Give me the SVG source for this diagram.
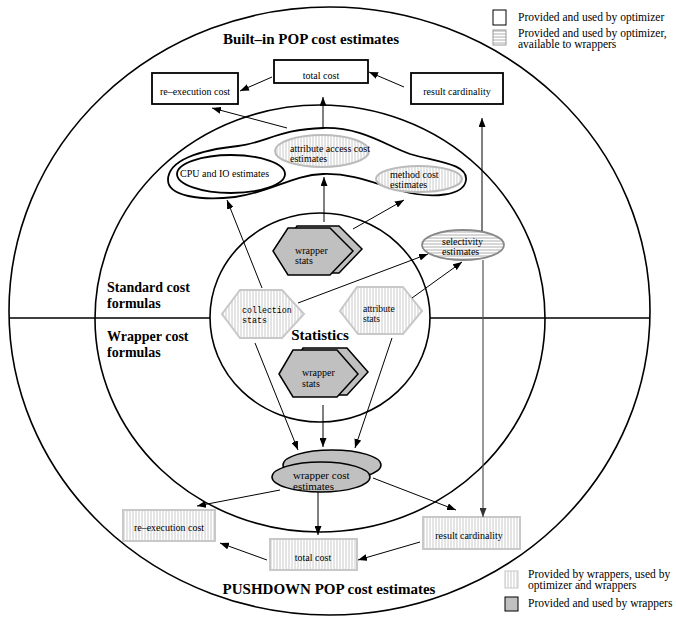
<svg xmlns="http://www.w3.org/2000/svg" width="676" height="618" viewBox="0 0 676 618">
<style>
.ring{fill:none;stroke:#000;stroke-width:1.6}
.box{fill:#fff;stroke:#000;stroke-width:1.8}
.sbox{fill:url(#vs);stroke:#c8c8c8;stroke-width:2}
.shex{fill:url(#vs);stroke:#c8c8c8;stroke-width:2}
.sell{fill:url(#vs);stroke:#bbb;stroke-width:2}
.hell{fill:url(#hs);stroke:#888;stroke-width:1.8}
.gray{fill:#c0c0c0;stroke:#000;stroke-width:1.5}
.t{font-family:"Liberation Serif","Times New Roman",serif;font-size:10px;fill:#000}
.tm{font-family:"Liberation Mono","Courier New",monospace;font-size:8.3px;fill:#000}
.tb{font-family:"Liberation Serif","Times New Roman",serif;font-size:15px;font-weight:bold;fill:#000}
.ts{font-family:"Liberation Serif","Times New Roman",serif;font-size:14px;font-weight:bold;fill:#000}
.lg{font-family:"Liberation Serif","Times New Roman",serif;font-size:11.5px;fill:#000}
.c{fill:none;stroke:#000;stroke-width:1;marker-end:url(#ah)}
.cg{fill:none;stroke:#555;stroke-width:1.2;marker-end:url(#ahg)}
</style>
<defs>
<pattern id="vs" patternUnits="userSpaceOnUse" width="3" height="10"><rect width="3" height="10" fill="#fff"/><line x1="1" y1="0" x2="1" y2="10" stroke="#bdbdbd" stroke-width="0.8"/></pattern>
<pattern id="hs" patternUnits="userSpaceOnUse" width="10" height="3"><rect width="10" height="3" fill="#fff"/><line x1="0" y1="1" x2="10" y2="1" stroke="#999" stroke-width="0.8"/></pattern>
<marker id="ah" markerUnits="userSpaceOnUse" markerWidth="9" markerHeight="7" refX="9" refY="3.5" orient="auto"><path d="M0,0 L9,3.5 L0,7 z" fill="#000"/></marker>
<marker id="ahg" markerUnits="userSpaceOnUse" markerWidth="9" markerHeight="7" refX="9" refY="3.5" orient="auto"><path d="M0,0 L9,3.5 L0,7 z" fill="#333"/></marker>
</defs>
<rect width="676" height="618" fill="#fff"/>

<g id="regions">
<ellipse class="ring" cx="329.5" cy="311" rx="320.5" ry="304"/>
<ellipse class="ring" cx="320" cy="318.5" rx="225" ry="213.5"/>
<ellipse class="ring" cx="320" cy="317.5" rx="110" ry="104.5"/>
<line x1="9" y1="318" x2="210" y2="318" stroke="#000" stroke-width="1.6"/>
<line x1="430" y1="318" x2="650" y2="318" stroke="#000" stroke-width="1.6"/>
<text class="tb" x="311" y="44" text-anchor="middle">Built–in POP cost estimates</text>
<text class="tb" x="329" y="594" text-anchor="middle">PUSHDOWN POP cost estimates</text>
<text class="ts" x="107" y="292">Standard cost</text>
<text class="ts" x="107" y="308">formulas</text>
<text class="ts" x="107" y="341">Wrapper cost</text>
<text class="ts" x="107" y="357">formulas</text>
<text class="tb" x="320" y="340" text-anchor="middle">Statistics</text>
</g>

<g id="legend">
<rect x="493" y="10" width="13" height="15" fill="#fff" stroke="#000" stroke-width="1"/>
<text class="lg" x="518" y="21">Provided and used by optimizer</text>
<rect x="493" y="30" width="13" height="15" fill="url(#hs)" stroke="#999" stroke-width="1"/>
<text class="lg" x="518" y="37">Provided and used by optimizer,</text>
<text class="lg" x="518" y="48">available to wrappers</text>
<rect x="505" y="571" width="13" height="17" fill="url(#vs)" stroke="#c8c8c8" stroke-width="1"/>
<text class="lg" x="528" y="578">Provided by wrappers, used by</text>
<text class="lg" x="528" y="589">optimizer and wrappers</text>
<rect x="505" y="597" width="13" height="14" fill="#c0c0c0" stroke="#000" stroke-width="1"/>
<text class="lg" x="528" y="607">Provided and used by wrappers</text>
</g>

<g id="top-total-cost"><rect class="box" x="274" y="60" width="94" height="23"/><text class="t" x="321" y="79" text-anchor="middle">total cost</text></g>
<g id="top-reexecution-cost"><rect class="box" x="152" y="73" width="86" height="31"/><text class="t" x="195" y="95" text-anchor="middle">re–execution cost</text></g>
<g id="top-result-cardinality"><rect class="box" x="411" y="73" width="92" height="31"/><text class="t" x="457" y="95" text-anchor="middle">result cardinality</text></g>

<g id="cost-formulas-blob">
<path d="M168,180 C168,160 200,150 238,146 C265,143 280,129 323,128 C362,127 385,145 410,154 C438,162 468,164 466,180 C464,196 432,199 402,191 C378,185 355,173 323,174 C292,175 272,192 235,197 C200,201 168,196 168,180 Z" fill="none" stroke="#000" stroke-width="1.8"/>
</g>
<g id="cpu-io"><ellipse cx="231" cy="174" rx="54" ry="19" fill="none" stroke="#000" stroke-width="1.8"/><text class="t" x="180" y="177">CPU and IO estimates</text></g>
<g id="attribute-access"><ellipse class="sell" cx="322" cy="151" rx="47" ry="16"/><text class="t" x="290" y="152">attribute access cost</text><text class="t" x="290" y="162">estimates</text></g>
<g id="method-cost"><ellipse class="sell" cx="419" cy="179" rx="43" ry="13"/><text class="t" x="390" y="178">method cost</text><text class="t" x="390" y="188">estimates</text></g>

<g id="selectivity"><ellipse class="hell" cx="463" cy="245" rx="41" ry="15"/><text class="t" x="442" y="245">selectivity</text><text class="t" x="442" y="255">estimates</text></g>

<g id="wrapper-stats-top">
<polygon class="gray" transform="translate(9,-2)" points="273,251 288,228 330,228 353,251 330,275 288,275"/>
<polygon class="gray" points="273,251 288,228 330,228 353,251 330,275 288,275"/>
<text class="t" x="295" y="254">wrapper</text><text class="t" x="295" y="264">stats</text>
</g>
<g id="collection-stats"><polygon class="shex" points="222,314 240,290 282,290 304,314 282,338 240,338"/><text class="tm" x="242" y="313">collection</text><text class="tm" x="242" y="323">stats</text></g>
<g id="attribute-stats"><polygon class="shex" points="340,311 357,287 403,287 422,311 403,334 358,334"/><text class="t" x="363" y="312" style="font-size:9.5px">attribute</text><text class="t" x="363" y="322" style="font-size:9.5px">stats</text></g>
<g id="wrapper-stats-bottom">
<polygon class="gray" transform="translate(10,-2)" points="279,374 293,350 337,350 358,374 337,397 293,397"/>
<polygon class="gray" points="279,374 293,350 337,350 358,374 337,397 293,397"/>
<text class="t" x="302" y="376">wrapper</text><text class="t" x="302" y="387">stats</text>
</g>

<g id="wrapper-cost-estimates">
<ellipse class="gray" cx="332" cy="465" rx="49" ry="15"/>
<ellipse class="gray" cx="321" cy="477" rx="49" ry="15"/>
<text class="t" x="293" y="479" style="font-size:11px">wrapper cost</text><text class="t" x="293" y="490" style="font-size:11px">estimates</text>
</g>

<g id="bottom-reexecution-cost"><rect class="sbox" x="123" y="510" width="92" height="31"/><text class="t" x="169" y="531" text-anchor="middle">re–execution cost</text></g>
<g id="bottom-total-cost"><rect class="sbox" x="270" y="539" width="87" height="31"/><text class="t" x="313" y="561" text-anchor="middle">total cost</text></g>
<g id="bottom-result-cardinality"><rect class="sbox" x="423" y="517" width="97" height="32"/><text class="t" x="469" y="539" text-anchor="middle">result cardinality</text></g>

<g id="connectors">
<line class="c" x1="272" y1="77" x2="240" y2="91"/>
<line class="c" x1="404" y1="87" x2="369" y2="72"/>
<line class="c" x1="287" y1="128" x2="212" y2="108"/>
<line class="c" x1="323" y1="128" x2="323" y2="97"/>
<line class="c" x1="262" y1="288" x2="227" y2="200"/>
<line class="c" x1="324" y1="222" x2="324" y2="177"/>
<line class="c" x1="353" y1="229" x2="404" y2="200"/>
<line class="c" x1="298" y1="303" x2="428" y2="254"/>
<line class="c" x1="412" y1="298" x2="462" y2="262"/>
<line class="c" x1="482" y1="231" x2="482" y2="118"/>
<line class="cg" x1="483" y1="260" x2="483" y2="517"/>
<line class="c" x1="255" y1="343" x2="298" y2="450"/>
<line class="c" x1="323" y1="405" x2="323" y2="447"/>
<line class="c" x1="392" y1="338" x2="355" y2="448"/>
<line class="c" x1="280" y1="490" x2="197" y2="506"/>
<line class="c" x1="373" y1="478" x2="456" y2="510"/>
<line class="c" x1="318" y1="492" x2="318" y2="535"/>
<line class="c" x1="420" y1="542" x2="358" y2="560"/>
<line class="c" x1="267" y1="560" x2="220" y2="543"/>
</g>
</svg>
